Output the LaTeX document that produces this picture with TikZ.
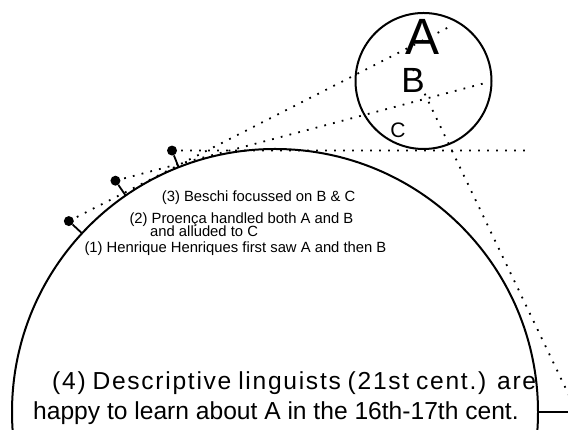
\documentclass[tikz,border=0pt]{standalone}
\usepackage{fontspec}
\setmainfont{Liberation Sans}
\usetikzlibrary{calc}
\begin{document}
\begin{tikzpicture}[x=1pt,y=1pt,
  earth/.style={line width=2pt},
  sight/.style={line width=1.8pt, dash pattern=on 1.8pt off 7.2pt},
  stem/.style={line width=1.8pt},
  pin/.style={circle, fill=black, inner sep=0pt, minimum size=10pt},
  small/.style={font=\fontsize{14.8}{16}\selectfont, inner sep=0pt, anchor=base west},
  big/.style={font=\fontsize{24.6}{29}\selectfont, inner sep=0pt, anchor=base west},
  letter/.style={inner sep=0pt, anchor=center},
]
\useasboundingbox (0,0) rectangle (568,430);
\clip (0,0) rectangle (568,430);
\coordinate (O) at (275,18);
\coordinate (M) at (423.5,349);
% earth and moon
\draw[earth] (O) circle[radius=263];
\draw[earth] (M) circle[radius=68];
% observers
\node[pin] (p1) at ($(O)+(137.2:281)$) {};
\node[pin] (p2) at ($(O)+(124.6:281)$) {};
\node[pin] (p3) at ($(O)+(111.5:281)$) {};
\node[pin] (p4) at ($(O)+(0:302)$) {};
\coordinate (b1) at ($(O)+(137.2:263)$);
\coordinate (b2) at ($(O)+(124.6:263)$);
\coordinate (b3) at ($(O)+(111.5:263)$);
\coordinate (b4) at ($(O)+(0:263)$);
\draw[stem] (b1) -- (p1);
\draw[stem] (b2) -- (p2);
\draw[stem] (b3) -- (p3);
\draw[stem] (b4) -- (p4);
% lines of sight
\coordinate (e1) at (453,405);
\coordinate (e2) at (489,348);
\coordinate (e3) at (531,279.5);
\coordinate (e4) at (410,367);
\draw[sight] (p1.center) -- (e1);
\draw[sight] (p2.center) -- (e2);
\draw[sight] (p3.center) -- (e3);
\draw[sight] (p4.center) -- (e4);
% letters
\node[letter, font=\fontsize{51}{51}\selectfont] (A) at (422.5,393) {A};
\node[letter, font=\fontsize{35}{35}\selectfont] (B) at (413,349.5) {B};
\node[letter, font=\fontsize{21}{21}\selectfont] (C) at (398,300) {C};
% texts
\node[small] (t3) at (161.7,228.3) {(3) Beschi focussed on B \& C};
\node[small] (t2) at (129.3,206.5) {(2) Proença handled both A and B};
\node[small] (t2b) at (150,193) {and alluded to C};
\node[small] (t1) at (84.3,177) {(1) Henrique Henriques first saw A and then B};
\node[big] (t4a) at (52,40) {\addfontfeature{LetterSpace=7}\makebox[484pt][s]{(4) Descriptive linguists (21st cent.) are}};
\node[big] (t4b) at (33,10) {happy to learn about A in the 16th-17th cent.};
\end{tikzpicture}
\end{document}
